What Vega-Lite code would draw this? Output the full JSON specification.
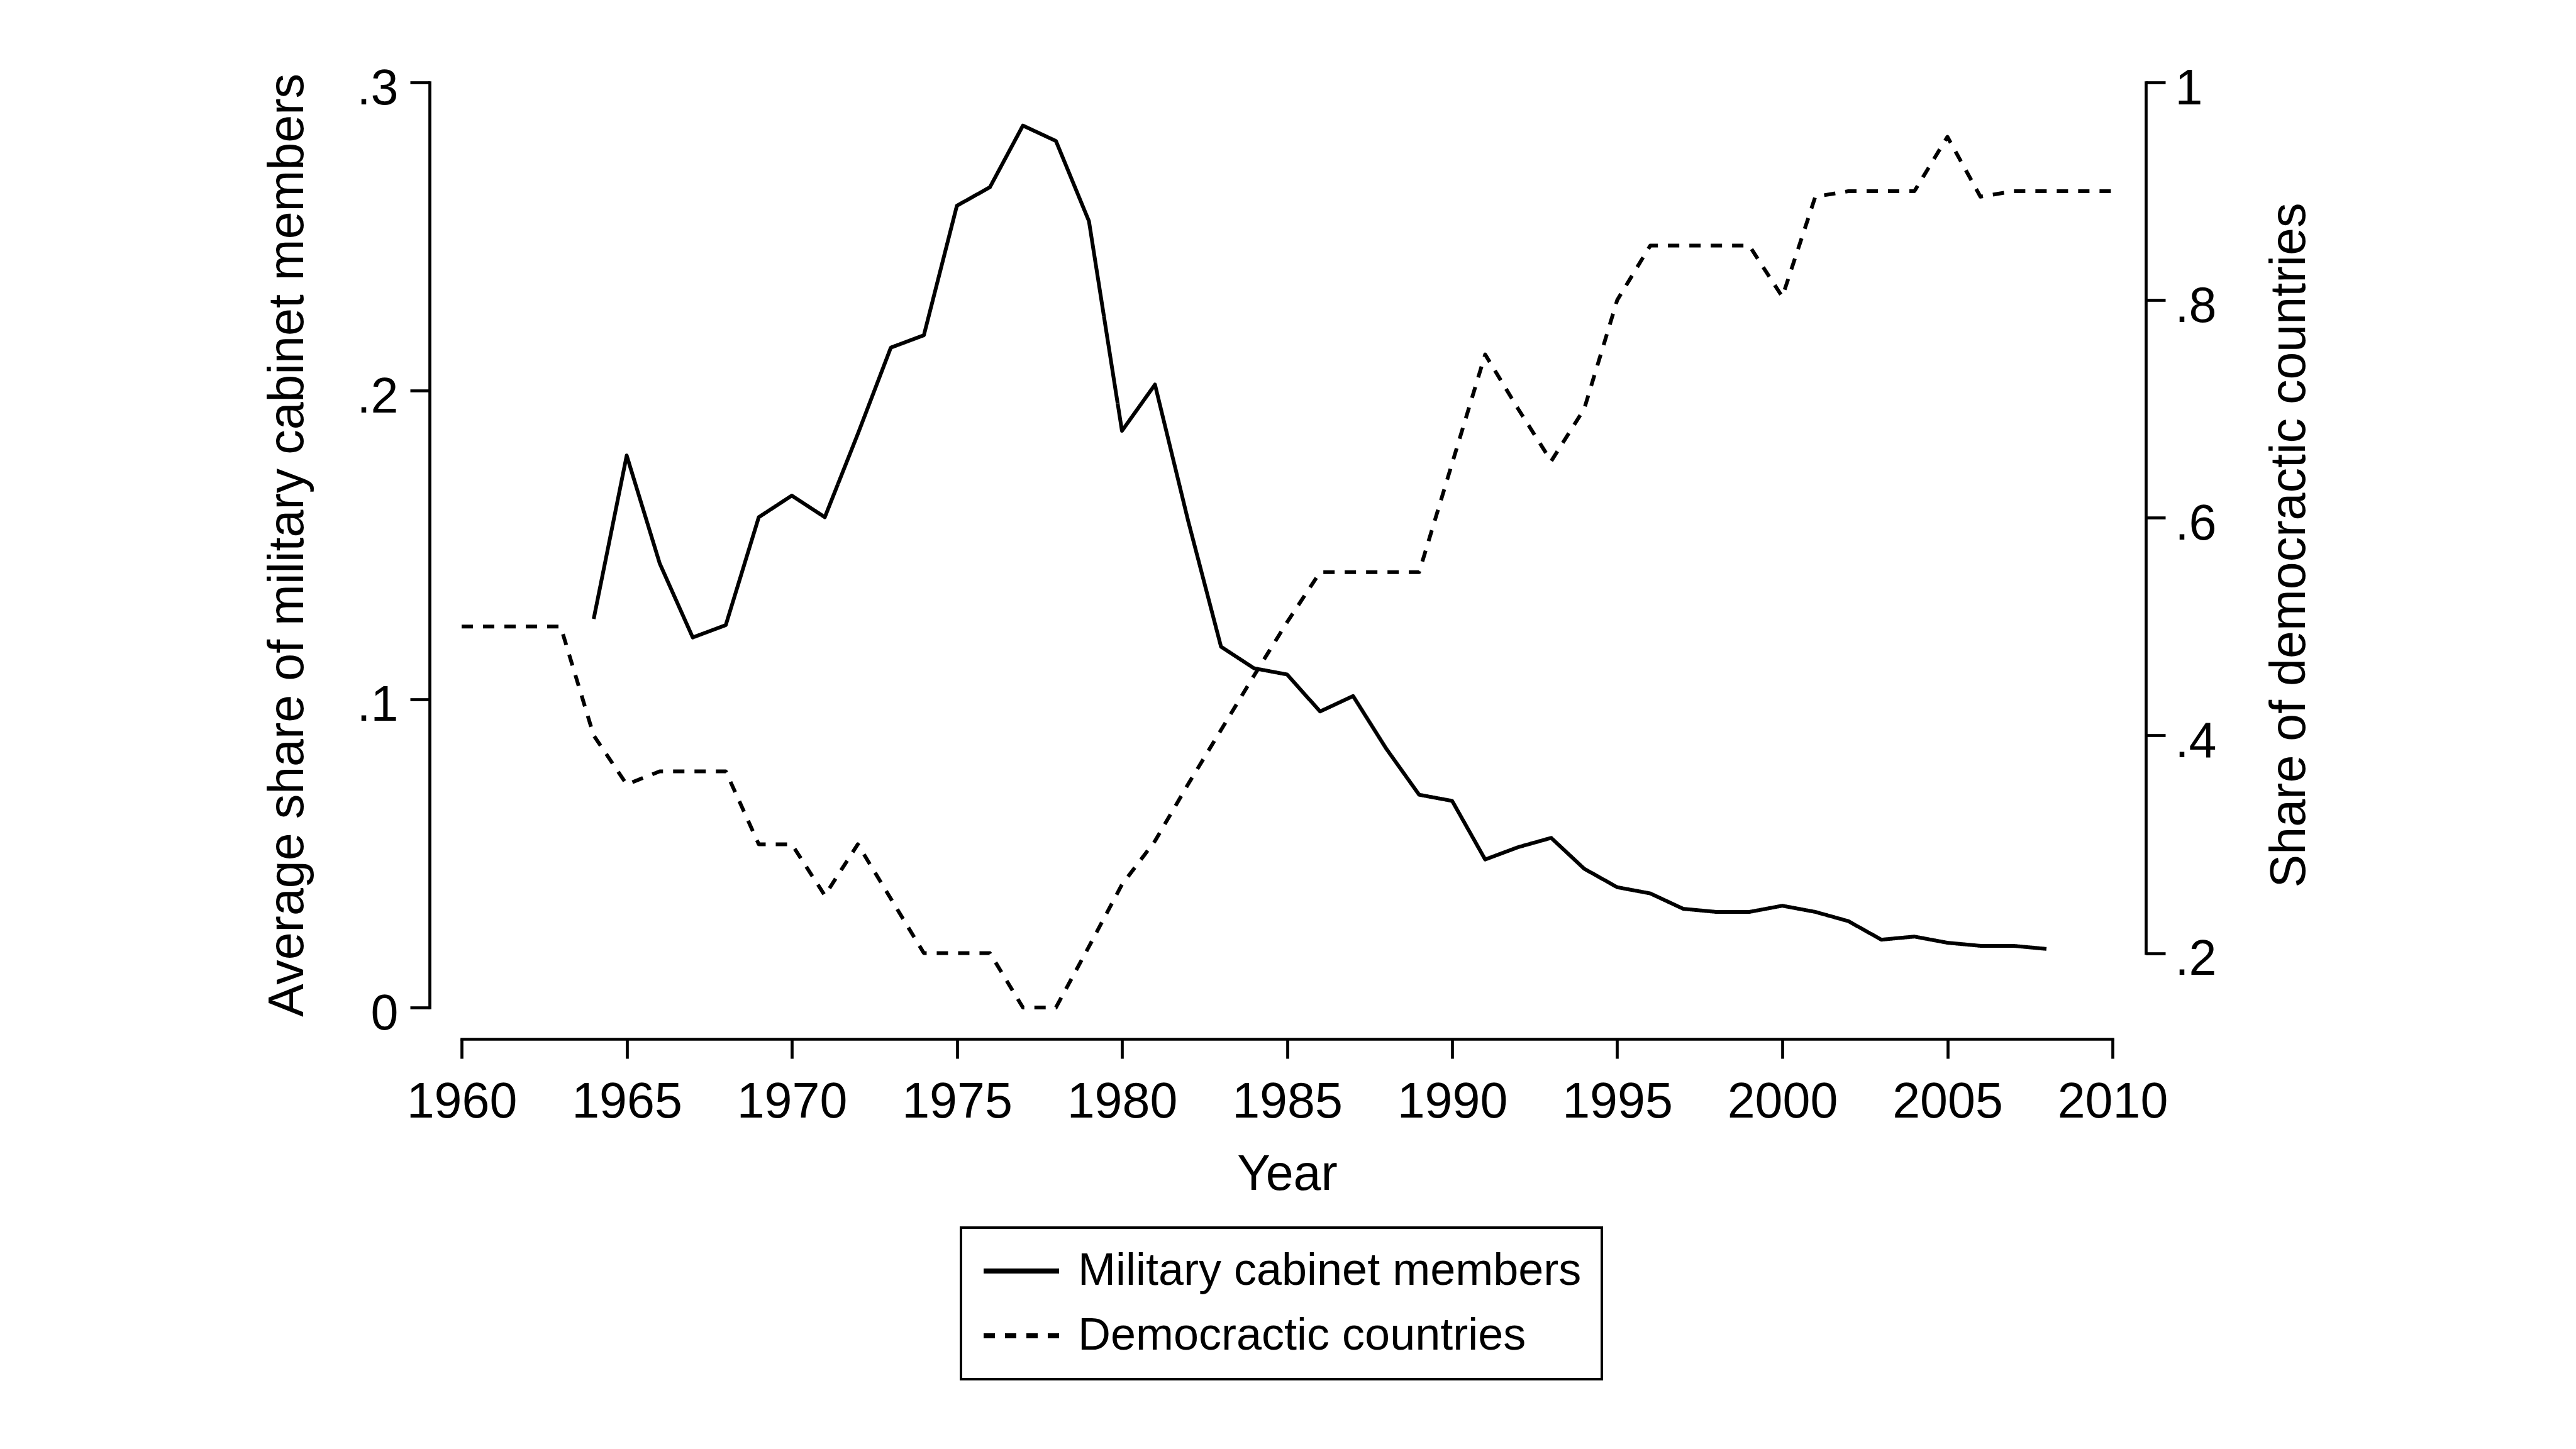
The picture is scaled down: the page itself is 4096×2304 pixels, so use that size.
{
  "$schema": "https://vega.github.io/schema/vega-lite/v6.json",
  "width": 2625,
  "height": 1471,
  "autosize": {"type": "none"},
  "padding": {"left": 734, "top": 131, "right": 737, "bottom": 702},
  "background": "white",
  "datasets": {
    "military": [
      {"year": 1964, "series": "Military cabinet members", "share": 0.126},
      {"year": 1965, "series": "Military cabinet members", "share": 0.179},
      {"year": 1966, "series": "Military cabinet members", "share": 0.144},
      {"year": 1967, "series": "Military cabinet members", "share": 0.120},
      {"year": 1968, "series": "Military cabinet members", "share": 0.124},
      {"year": 1969, "series": "Military cabinet members", "share": 0.159},
      {"year": 1970, "series": "Military cabinet members", "share": 0.166},
      {"year": 1971, "series": "Military cabinet members", "share": 0.159},
      {"year": 1972, "series": "Military cabinet members", "share": 0.186},
      {"year": 1973, "series": "Military cabinet members", "share": 0.214},
      {"year": 1974, "series": "Military cabinet members", "share": 0.218},
      {"year": 1975, "series": "Military cabinet members", "share": 0.260},
      {"year": 1976, "series": "Military cabinet members", "share": 0.266},
      {"year": 1977, "series": "Military cabinet members", "share": 0.286},
      {"year": 1978, "series": "Military cabinet members", "share": 0.281},
      {"year": 1979, "series": "Military cabinet members", "share": 0.255},
      {"year": 1980, "series": "Military cabinet members", "share": 0.187},
      {"year": 1981, "series": "Military cabinet members", "share": 0.202},
      {"year": 1982, "series": "Military cabinet members", "share": 0.158},
      {"year": 1983, "series": "Military cabinet members", "share": 0.117},
      {"year": 1984, "series": "Military cabinet members", "share": 0.110},
      {"year": 1985, "series": "Military cabinet members", "share": 0.108},
      {"year": 1986, "series": "Military cabinet members", "share": 0.096},
      {"year": 1987, "series": "Military cabinet members", "share": 0.101},
      {"year": 1988, "series": "Military cabinet members", "share": 0.084},
      {"year": 1989, "series": "Military cabinet members", "share": 0.069},
      {"year": 1990, "series": "Military cabinet members", "share": 0.067},
      {"year": 1991, "series": "Military cabinet members", "share": 0.048},
      {"year": 1992, "series": "Military cabinet members", "share": 0.052},
      {"year": 1993, "series": "Military cabinet members", "share": 0.055},
      {"year": 1994, "series": "Military cabinet members", "share": 0.045},
      {"year": 1995, "series": "Military cabinet members", "share": 0.039},
      {"year": 1996, "series": "Military cabinet members", "share": 0.037},
      {"year": 1997, "series": "Military cabinet members", "share": 0.032},
      {"year": 1998, "series": "Military cabinet members", "share": 0.031},
      {"year": 1999, "series": "Military cabinet members", "share": 0.031},
      {"year": 2000, "series": "Military cabinet members", "share": 0.033},
      {"year": 2001, "series": "Military cabinet members", "share": 0.031},
      {"year": 2002, "series": "Military cabinet members", "share": 0.028},
      {"year": 2003, "series": "Military cabinet members", "share": 0.022},
      {"year": 2004, "series": "Military cabinet members", "share": 0.023},
      {"year": 2005, "series": "Military cabinet members", "share": 0.021},
      {"year": 2006, "series": "Military cabinet members", "share": 0.020},
      {"year": 2007, "series": "Military cabinet members", "share": 0.020},
      {"year": 2008, "series": "Military cabinet members", "share": 0.019}
    ],
    "democracy": [
      {"year": 1960, "series": "Democractic countries", "share": 0.5},
      {"year": 1961, "series": "Democractic countries", "share": 0.5},
      {"year": 1962, "series": "Democractic countries", "share": 0.5},
      {"year": 1963, "series": "Democractic countries", "share": 0.5},
      {"year": 1964, "series": "Democractic countries", "share": 0.4},
      {"year": 1965, "series": "Democractic countries", "share": 0.355},
      {"year": 1966, "series": "Democractic countries", "share": 0.367},
      {"year": 1967, "series": "Democractic countries", "share": 0.367},
      {"year": 1968, "series": "Democractic countries", "share": 0.367},
      {"year": 1969, "series": "Democractic countries", "share": 0.3},
      {"year": 1970, "series": "Democractic countries", "share": 0.3},
      {"year": 1971, "series": "Democractic countries", "share": 0.253},
      {"year": 1972, "series": "Democractic countries", "share": 0.3},
      {"year": 1973, "series": "Democractic countries", "share": 0.25},
      {"year": 1974, "series": "Democractic countries", "share": 0.2},
      {"year": 1975, "series": "Democractic countries", "share": 0.2},
      {"year": 1976, "series": "Democractic countries", "share": 0.2},
      {"year": 1977, "series": "Democractic countries", "share": 0.15},
      {"year": 1978, "series": "Democractic countries", "share": 0.15},
      {"year": 1979, "series": "Democractic countries", "share": 0.206},
      {"year": 1980, "series": "Democractic countries", "share": 0.263},
      {"year": 1981, "series": "Democractic countries", "share": 0.303},
      {"year": 1982, "series": "Democractic countries", "share": 0.355},
      {"year": 1983, "series": "Democractic countries", "share": 0.405},
      {"year": 1984, "series": "Democractic countries", "share": 0.455},
      {"year": 1985, "series": "Democractic countries", "share": 0.504},
      {"year": 1986, "series": "Democractic countries", "share": 0.55},
      {"year": 1987, "series": "Democractic countries", "share": 0.55},
      {"year": 1988, "series": "Democractic countries", "share": 0.55},
      {"year": 1989, "series": "Democractic countries", "share": 0.55},
      {"year": 1990, "series": "Democractic countries", "share": 0.65},
      {"year": 1991, "series": "Democractic countries", "share": 0.75},
      {"year": 1992, "series": "Democractic countries", "share": 0.7},
      {"year": 1993, "series": "Democractic countries", "share": 0.652},
      {"year": 1994, "series": "Democractic countries", "share": 0.7},
      {"year": 1995, "series": "Democractic countries", "share": 0.8},
      {"year": 1996, "series": "Democractic countries", "share": 0.85},
      {"year": 1997, "series": "Democractic countries", "share": 0.85},
      {"year": 1998, "series": "Democractic countries", "share": 0.85},
      {"year": 1999, "series": "Democractic countries", "share": 0.85},
      {"year": 2000, "series": "Democractic countries", "share": 0.803},
      {"year": 2001, "series": "Democractic countries", "share": 0.895},
      {"year": 2002, "series": "Democractic countries", "share": 0.9},
      {"year": 2003, "series": "Democractic countries", "share": 0.9},
      {"year": 2004, "series": "Democractic countries", "share": 0.9},
      {"year": 2005, "series": "Democractic countries", "share": 0.95},
      {"year": 2006, "series": "Democractic countries", "share": 0.895},
      {"year": 2007, "series": "Democractic countries", "share": 0.9},
      {"year": 2008, "series": "Democractic countries", "share": 0.9},
      {"year": 2009, "series": "Democractic countries", "share": 0.9},
      {"year": 2010, "series": "Democractic countries", "share": 0.9}
    ]
  },
  "encoding": {
    "x": {
      "field": "year",
      "type": "quantitative",
      "scale": {"domain": [1960, 2010], "nice": false, "zero": false},
      "axis": {
        "title": "Year",
        "values": [1960, 1965, 1970, 1975, 1980, 1985, 1990, 1995, 2000, 2005, 2010],
        "format": "d",
        "offset": 50,
        "labelPadding": 31,
        "titlePadding": 37,
        "labelFlush": false,
        "labelOverlap": false
      }
    },
    "strokeDash": {
      "field": "series",
      "type": "nominal",
      "scale": {
        "domain": ["Military cabinet members", "Democractic countries"],
        "range": [[1, 0], [18, 16]]
      },
      "legend": {"title": null}
    }
  },
  "layer": [
    {
      "data": {"name": "military"},
      "mark": {"type": "line", "color": "black", "strokeWidth": 6, "strokeJoin": "round"},
      "encoding": {
        "y": {
          "field": "share",
          "type": "quantitative",
          "scale": {"domain": [0, 0.3], "nice": false},
          "axis": {
            "title": "Average share of military cabinet members",
            "values": [0, 0.1, 0.2, 0.3],
            "labelExpr": "datum.value == 0 ? '0' : '.' + format(datum.value * 10, 'd')",
            "offset": 51,
            "labelPadding": 19,
            "labelOffset": 10,
            "titlePadding": 69
          }
        }
      }
    },
    {
      "data": {"name": "democracy"},
      "mark": {"type": "line", "color": "black", "strokeWidth": 6, "strokeJoin": "round"},
      "encoding": {
        "y": {
          "field": "share",
          "type": "quantitative",
          "scale": {"domain": [0.2, 1], "range": [1384.5, 0], "nice": false, "zero": false},
          "axis": {
            "orient": "right",
            "title": "Share of democractic countries",
            "values": [0.2, 0.4, 0.6, 0.8, 1],
            "labelExpr": "datum.value == 1 ? '1' : '.' + format(datum.value * 10, 'd')",
            "offset": 53,
            "labelPadding": 15,
            "labelOffset": 10,
            "titleAngle": 270,
            "titleBaseline": "top",
            "titlePadding": 79,
            "titleY": 735.5
          }
        }
      }
    }
  ],
  "resolve": {"scale": {"y": "independent"}},
  "config": {
    "view": {"stroke": null},
    "font": "Liberation Sans",
    "axis": {
      "grid": false,
      "domainColor": "black",
      "domainWidth": 4.7,
      "domainCap": "square",
      "tickColor": "black",
      "tickWidth": 4.7,
      "tickSize": 31,
      "labelColor": "black",
      "labelFont": "Liberation Sans",
      "labelFontSize": 79,
      "titleColor": "black",
      "titleFont": "Liberation Sans",
      "titleFontSize": 79,
      "titleFontWeight": "normal"
    },
    "legend": {
      "orient": "none",
      "legendX": 794,
      "legendY": 1821,
      "direction": "vertical",
      "strokeColor": "black",
      "strokeWidth": 4,
      "padding": 32,
      "rowPadding": 29,
      "clipHeight": 74,
      "labelFont": "Liberation Sans",
      "labelFontSize": 72,
      "labelColor": "black",
      "labelLimit": 3000,
      "labelOffset": 26,
      "symbolType": "stroke",
      "symbolSize": 14400,
      "symbolStrokeWidth": 8,
      "symbolStrokeColor": "black"
    }
  }
}
